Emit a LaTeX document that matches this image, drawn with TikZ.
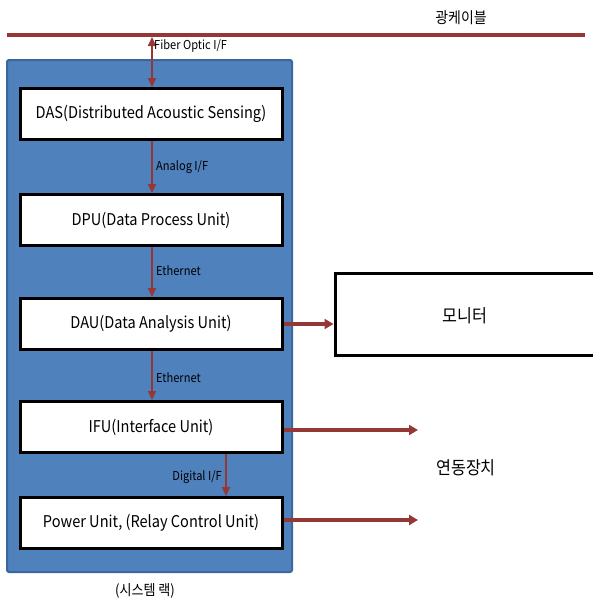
\documentclass[tikz,border=0pt]{standalone}
\usepackage{fontspec}
\setmainfont[FakeStretch=0.9]{Noto Sans CJK KR}
\usetikzlibrary{arrows.meta}
\definecolor{cable}{HTML}{953735}
\definecolor{rackfill}{HTML}{4F81BD}
\definecolor{rackline}{HTML}{3A679C}
\tikzset{
  unitbox/.style={draw=black, line width=3pt, fill=white, minimum width=262pt, minimum height=51pt, inner sep=0pt, font=\fontsize{16.2}{19}\selectfont},
  flow/.style={draw=cable, line width=2pt, -{Triangle[length=9pt,width=8pt]}},
  outflow/.style={draw=cable, line width=3.5pt, -{Triangle[length=9pt,width=10pt]}},
  lbl/.style={inner sep=1pt, font=\fontsize{12.3}{14}\selectfont},
  big/.style={inner sep=0pt, font=\fontsize{18}{21}\selectfont}
}
\begin{document}
\begin{tikzpicture}[x=1pt,y=-1pt]
\useasboundingbox (0,0) rectangle (593,606);
% cable
\coordinate (cL) at (7,35);
\coordinate (cR) at (585,35);
\draw[cable, line width=4pt] (cL) -- (cR);
\node[big, font=\fontsize{15.5}{18}\selectfont] (cablelbl) at (461,18) {광케이블};
% rack
\node[draw=rackline, line width=2pt, fill=rackfill, rounded corners=2pt, minimum width=285pt, minimum height=512pt, inner sep=0pt] (rack) at (149.5,316) {};
\node[lbl, font=\fontsize{14.5}{17}\selectfont] (racklbl) at (145,591) {(시스템 랙)};
% units
\node[unitbox] (das) at (151,114) {DAS(Distributed Acoustic Sensing)};
\node[unitbox] (dpu) at (151,220) {DPU(Data Process Unit)};
\node[unitbox] (dau) at (151,324) {DAU(Data Analysis Unit)};
\node[unitbox] (ifu) at (151,427) {IFU(Interface Unit)};
\node[unitbox] (pwu) at (151,523) {Power Unit, (Relay Control Unit)};
% monitor
\node[draw=black, line width=3pt, fill=white, minimum width=264pt, minimum height=82pt, inner sep=0pt] (mon) at (467,314) {};
\node[big] (monlbl) at (465,316) {모니터};
\node[big] (linklbl) at (466,468) {연동장치};
% vertical connectors
\coordinate (fibertop) at (152,37);
\draw[cable, line width=2pt, {Triangle[length=9pt,width=8pt]}-{Triangle[length=9pt,width=8pt]}] (fibertop) -- (das.north -| fibertop);
\node[lbl, anchor=west] (fiberlbl) at (153,46) {Fiber Optic I/F};
\draw[flow] (das.south -| fibertop) -- (dpu.north -| fibertop);
\node[lbl, anchor=west] (analoglbl) at (155,167) {Analog I/F};
\draw[flow] (dpu.south -| fibertop) -- (dau.north -| fibertop);
\node[lbl, anchor=west] (eth1lbl) at (155,271) {Ethernet};
\draw[flow] (dau.south -| fibertop) -- (ifu.north -| fibertop);
\node[lbl, anchor=west] (eth2lbl) at (155,378) {Ethernet};
\coordinate (digx) at (226,0);
\draw[flow] (ifu.south -| digx) -- (pwu.north -| digx);
\node[lbl, anchor=east] (diglbl) at (223,477) {Digital I/F};
% outputs
\draw[outflow] (dau.east) -- (dau.east -| mon.west);
\coordinate (ifuend) at (418,430);
\coordinate (pwuend) at (418,520);
\draw[outflow] (ifu.east |- ifuend) -- (ifuend);
\draw[outflow] (pwu.east |- pwuend) -- (pwuend);
\end{tikzpicture}
\end{document}
